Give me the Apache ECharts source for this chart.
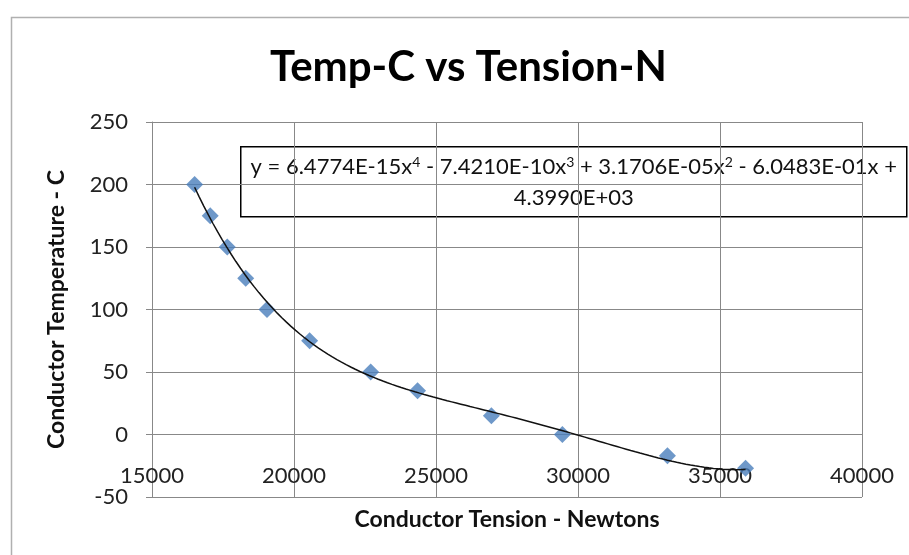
<!DOCTYPE html>
<html>
<head>
<meta charset="utf-8">
<script src="https://cdn.jsdelivr.net/npm/echarts@6/dist/echarts.min.js"></script>
<style>
html,body{margin:0;padding:0;background:#fff;}
#chart{width:909px;height:555px;}
</style>
</head>
<body>
<div id="chart"></div>
<script>
// Data
const tensionN = [16500, 17050, 17650, 18300, 19050, 20550, 22700, 24350, 26950, 29450, 33150, 35900];
const temperatureC = [200, 175, 150, 125, 100, 75, 50, 35, 15, 0, -17, -27];
// Trendline coefficients printed on the chart (constant, x, x^2, x^3, x^4)
const trendCoeffs = [4.3990E+03, -6.0483E-01, 3.1706E-05, -7.4210E-10, 6.4774E-15];
const xTicks = [15000, 20000, 25000, 30000, 35000, 40000];
const yTicks = [-50, 0, 50, 100, 150, 200, 250];
const titleText = 'Temp-C vs Tension-N';
const xAxisName = 'Conductor Tension - Newtons';
const yAxisName = 'Conductor Temperature - C';
const eqLine1 = 'y = 6.4774E-15x{s|4} - 7.4210E-10x{s|3} + 3.1706E-05x{s|2} - 6.0483E-01x +';
const eqLine2 = '4.3990E+03';

const points = tensionN.map((x, i) => [x, temperatureC[i]]);
const xMinData = Math.min(...tensionN), xMaxData = Math.max(...tensionN);
const trend = [];
for (let k = 0; k <= 120; k++) {
  const x = xMinData + (xMaxData - xMinData) * k / 120;
  let y = 0;
  for (let p = trendCoeffs.length - 1; p >= 0; p--) y = y * x + trendCoeffs[p];
  trend.push([x, y]);
}

const FONT = 'Lato, "Open Sans", sans-serif';
const chart = echarts.init(document.getElementById('chart'), null, {renderer: 'canvas'});
chart.setOption({
  animation: false,
  backgroundColor: '#fff',
  textStyle: {fontFamily: FONT},
  title: {
    text: titleText,
    left: 265,
    top: 41,
    textStyle: {fontFamily: FONT, fontSize: 42, fontWeight: 'bold', color: '#000'}
  },
  grid: {left: 152, right: 47, top: 122, bottom: 58, containLabel: false},
  xAxis: {
    type: 'value',
    min: xTicks[0], max: xTicks[xTicks.length - 1], interval: 5000,
    name: xAxisName, nameLocation: 'middle', nameGap: 11,
    nameTextStyle: {fontFamily: FONT, fontSize: 23, fontWeight: 'bold', color: '#111', verticalAlign: 'top'},
    axisLine: {show: true, lineStyle: {color: '#888', width: 1}},
    axisTick: {show: true, length: 5, lineStyle: {color: '#888'}},
    axisLabel: {inside: true, margin: 10, fontFamily: FONT, fontSize: 22, color: '#222', formatter: v => String(v)},
    splitLine: {show: true, lineStyle: {color: '#888', width: 1}}
  },
  yAxis: {
    type: 'value',
    min: yTicks[0], max: yTicks[yTicks.length - 1], interval: 50,
    name: yAxisName, nameLocation: 'middle', nameGap: 84, nameRotate: 90,
    nameTextStyle: {fontFamily: FONT, fontSize: 23, fontWeight: 'bold', color: '#111'},
    axisLine: {show: true, lineStyle: {color: '#888', width: 1}},
    axisTick: {show: true, length: 6, lineStyle: {color: '#888'}},
    axisLabel: {margin: 24, fontFamily: FONT, fontSize: 22, color: '#222', formatter: v => String(v)},
    splitLine: {show: true, lineStyle: {color: '#888', width: 1}}
  },
  series: [
    {
      type: 'scatter',
      name: 'Data',
      data: points,
      symbol: 'diamond',
      symbolSize: 17,
      itemStyle: {color: '#4A7EBB'},
      z: 2
    },
    {
      type: 'line',
      name: 'Poly. trend',
      data: trend,
      showSymbol: false,
      smooth: false,
      lineStyle: {color: '#111', width: 1.5},
      z: 3
    }
  ],
  graphic: [
    {
      type: 'rect',
      left: 9, top: 15,
      shape: {width: 1000, height: 600},
      style: {fill: 'none', stroke: '#b0b0b0', lineWidth: 1.5},
      silent: true
    },
    {
      type: 'group',
      left: 240, top: 146,
      z: 100,
      children: [
        {
          type: 'rect',
          shape: {x: 0, y: 0, width: 666, height: 70},
          style: {fill: '#fff', stroke: '#000', lineWidth: 1.5}
        },
        {
          type: 'text',
          x: 333, y: 20,
          style: {
            text: eqLine1, fontFamily: FONT, fontSize: 22, fill: '#111', align: 'center', verticalAlign: 'middle',
            rich: {s: {fontFamily: FONT, fontSize: 14, fill: '#111', verticalAlign: 'top', lineHeight: 22, padding: [0, 0, 8, 0]}}
          }
        },
        {
          type: 'text',
          x: 333, y: 51,
          style: {text: eqLine2, fontFamily: FONT, fontSize: 22, fill: '#111', align: 'center', verticalAlign: 'middle'}
        }
      ]
    }
  ]
});
</script>
</body>
</html>
